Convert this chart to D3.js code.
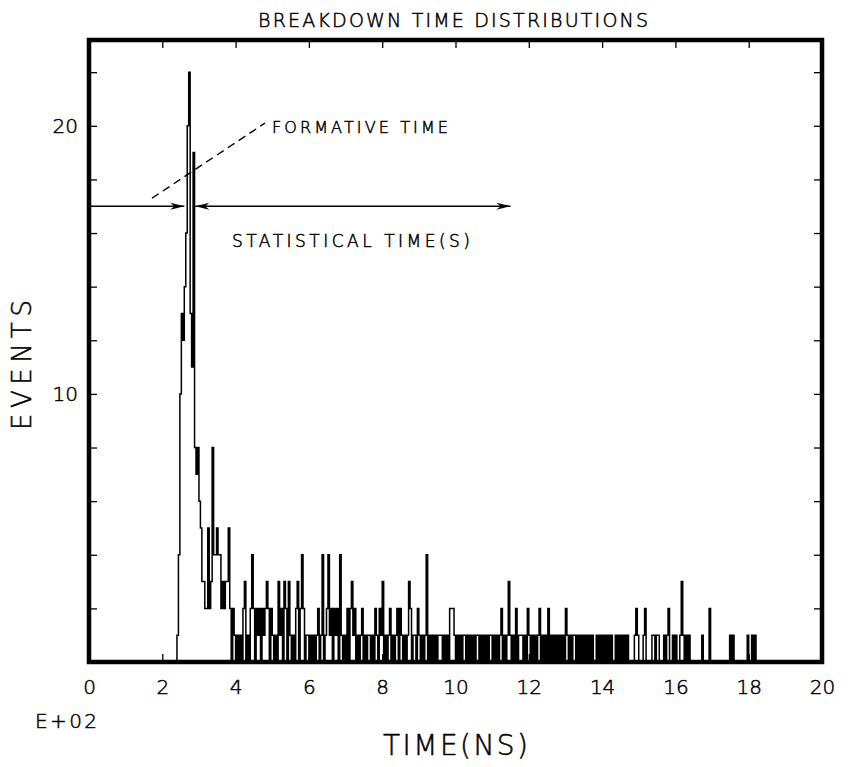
<!DOCTYPE html>
<html>
<head>
<meta charset="utf-8">
<script src="https://d3js.org/d3.v7.min.js"></script>
<style>
  body { margin: 0; background: #fff; }
  text { font-family: "DejaVu Sans", sans-serif; font-weight: 200; fill: #000; stroke: #000; stroke-width: 0.5px; }
</style>
</head>
<body>
<script>
// chart texts
var title = 'BREAKDOWN TIME DISTRIBUTIONS';
var xTitle = 'TIME(NS)';
var yTitle = 'EVENTS';
var xExponent = 'E+02';
var formativeLabel = 'FORMATIVE TIME';
var statisticalLabel = 'STATISTICAL TIME(S)';

// axes (time in units of 1E+02 ns)
var xTickValues = [0, 2, 4, 6, 8, 10, 12, 14, 16, 18, 20];
var yTickValues = [2, 4, 6, 8, 10, 12, 14, 16, 18, 20, 22];
var yLabelValues = [10, 20];

// histogram: bins of 4 ns starting at 240 ns, one row = 100 ns
var binStartNs = 240;
var binWidthNs = 4;
var counts = [].concat(
  [1,4,10,13,12,14,16,20,22,13,11,19,8,7,8,6,5,3,3,2,2,5,2,3,8],
  [4,4,5,4,4,2,3,2,3,3,5,2,0,2,1,0,1,0,1,0,2,3,0,1,0],
  [2,4,2,0,2,1,2,0,2,1,2,3,2,0,2,1,0,1,0,3,1,2,0,3,2],
  [0,3,1,0,1,0,2,3,0,2,4,2,0,1,1,0,1,0,1,0,1,2,0,1,4],
  [0,1,2,4,1,2,0,2,1,2,0,4,1,0,1,0,2,0,2,3,1,2,0,1,0],
  [1,2,0,1,0,1,1,0,1,0,2,1,0,2,1,3,0,1,0,1,2,0,1,0,1],
  [2,0,2,1,0,1,0,1,3,2,0,1,1,0,2,1,0,1,0,1,4,0,1,0,1],
  [0,1,0,1,1,1,0,1,0,1,0,2,2,2,1,0,1,0,1,0,1,1,0,1,0],
  [1,0,1,0,1,1,0,1,0,1,0,1,0,1,1,0,1,0,1,0,1,2,0,1,0],
  [1,3,1,0,1,0,2,0,1,1,1,0,1,0,2,1,0,1,0,1,0,1,2,0,1],
  [0,1,0,2,0,1,0,1,0,1,0,1,0,1,0,2,1,0,1,0,1,1,0,1,0],
  [1,0,1,0,1,0,1,0,1,0,0,1,0,1,0,1,0,1,0,1,0,1,0,0,1],
  [0,1,0,1,0,1,0,1,0,0,0,0,1,2,1,0,0,0,1,2,0,0,0,0,1],
  [1,0,1,1,0,0,0,1,0,1,2,0,0,1,0,1,0,0,1,3,1,0,1,0,1],
  [0,0,0,0,0,0,0,0,1,0,0,0,0,2,0,0,0,0,0,0,0,0,0,0,0],
  [0,0,1,0,1,0,0,0,0,0,0,0,0,0,1,0,0,1,0,1,0,0,0,0,0]
);

// annotations, in data units (time E+02 ns, events)
var formativeDash = [[1.72, 17.3], [4.8, 20.1]];
var arrowLevel = 17;
var arrowLeft = [0, 2.6];
var arrowRight = [2.9, 11.5];

var width = 851, height = 767;

var x = d3.scaleLinear().domain([0, 20]).range([89, 822]);
var y = d3.scaleLinear().domain([0, 23.2]).range([662, 40]);

var svg = d3.select('body').append('svg')
  .attr('width', width)
  .attr('height', height);

// histogram outline
var bins = counts.map(function(c, i) {
  return {t: (binStartNs + i * binWidthNs) / 100, c: c};
});
var steps = [{t: bins[0].t, c: 0}].concat(bins)
  .concat([{t: (binStartNs + counts.length * binWidthNs) / 100, c: 0}]);

svg.append('path')
  .datum(steps)
  .attr('fill', 'none')
  .attr('stroke', '#000')
  .attr('stroke-width', 1.5)
  .attr('d', d3.line()
    .curve(d3.curveStepAfter)
    .x(function(d) { return x(d.t); })
    .y(function(d) { return y(d.c); }));

// axes with inward ticks
function styleAxis(g) {
  g.select('.domain').remove();
  g.attr('font-family', null).attr('font-size', null);
  g.selectAll('line').attr('stroke', '#000').attr('stroke-width', 1.3);
}

svg.append('g')
  .attr('transform', 'translate(0,' + y(0) + ')')
  .call(d3.axisBottom(x).tickValues(xTickValues).tickSizeInner(-8)
    .tickSizeOuter(0).tickPadding(18).tickFormat(d3.format('d')))
  .call(styleAxis)
  .selectAll('text').style('font-size', '20px');

svg.append('g')
  .attr('transform', 'translate(0,' + y.range()[1] + ')')
  .call(d3.axisTop(x).tickValues(xTickValues.slice(1, -1)).tickSizeInner(-8)
    .tickSizeOuter(0).tickFormat(''))
  .call(styleAxis);

svg.append('g')
  .attr('transform', 'translate(' + x(0) + ',0)')
  .call(d3.axisLeft(y).tickValues(yTickValues).tickSizeInner(-8)
    .tickSizeOuter(0).tickPadding(11)
    .tickFormat(function(d) { return yLabelValues.indexOf(d) >= 0 ? d : ''; }))
  .call(styleAxis)
  .selectAll('text').style('font-size', '20px');

svg.append('g')
  .attr('transform', 'translate(' + x(20) + ',0)')
  .call(d3.axisRight(y).tickValues(yTickValues).tickSizeInner(-8)
    .tickSizeOuter(0).tickFormat(''))
  .call(styleAxis);

// heavy frame
svg.append('rect')
  .attr('x', x(0))
  .attr('y', y.range()[1])
  .attr('width', x(20) - x(0))
  .attr('height', y(0) - y.range()[1])
  .attr('fill', 'none')
  .attr('stroke', '#000')
  .attr('stroke-width', 4.5);

// titles
svg.append('text')
  .attr('x', 258).attr('y', 27)
  .attr('textLength', 390)
  .style('font-size', '19px')
  .text(title);

svg.append('text')
  .attr('x', 383).attr('y', 755)
  .attr('textLength', 145)
  .style('font-size', '28px')
  .text(xTitle);

svg.append('text')
  .attr('transform', 'translate(31,430) rotate(-90)')
  .attr('textLength', 130)
  .style('font-size', '26px')
  .text(yTitle);

svg.append('text')
  .attr('x', 35).attr('y', 728)
  .attr('textLength', 62)
  .style('font-size', '20px')
  .text(xExponent);

// formative time annotation
svg.append('path')
  .datum(formativeDash)
  .attr('fill', 'none')
  .attr('stroke', '#000')
  .attr('stroke-width', 1.4)
  .attr('stroke-dasharray', '8,5')
  .attr('d', d3.line()
    .x(function(d) { return x(d[0]); })
    .y(function(d) { return y(d[1]); }));

svg.append('text')
  .attr('x', x(formativeDash[1][0]) + 7).attr('y', y(formativeDash[1][1]) + 10)
  .attr('textLength', 176)
  .style('font-size', '16px')
  .text(formativeLabel);

// statistical time arrows
var ay = y(arrowLevel);
function arrowHead(tipX, dir) {
  var pts = [[tipX, ay], [tipX - dir * 14, ay - 3.5], [tipX - dir * 10, ay], [tipX - dir * 14, ay + 3.5]];
  svg.append('path')
    .attr('d', 'M' + pts.join('L') + 'Z')
    .attr('fill', '#000');
}

[arrowLeft, arrowRight].forEach(function(seg) {
  svg.append('line')
    .attr('x1', x(seg[0])).attr('x2', x(seg[1]))
    .attr('y1', ay).attr('y2', ay)
    .attr('stroke', '#000')
    .attr('stroke-width', 1.4);
});
arrowHead(x(arrowLeft[1]), 1);
arrowHead(x(arrowRight[0]), -1);
arrowHead(x(arrowRight[1]), 1);

svg.append('text')
  .attr('x', 232).attr('y', 247)
  .attr('textLength', 238)
  .style('font-size', '17px')
  .text(statisticalLabel);
</script>
</body>
</html>
